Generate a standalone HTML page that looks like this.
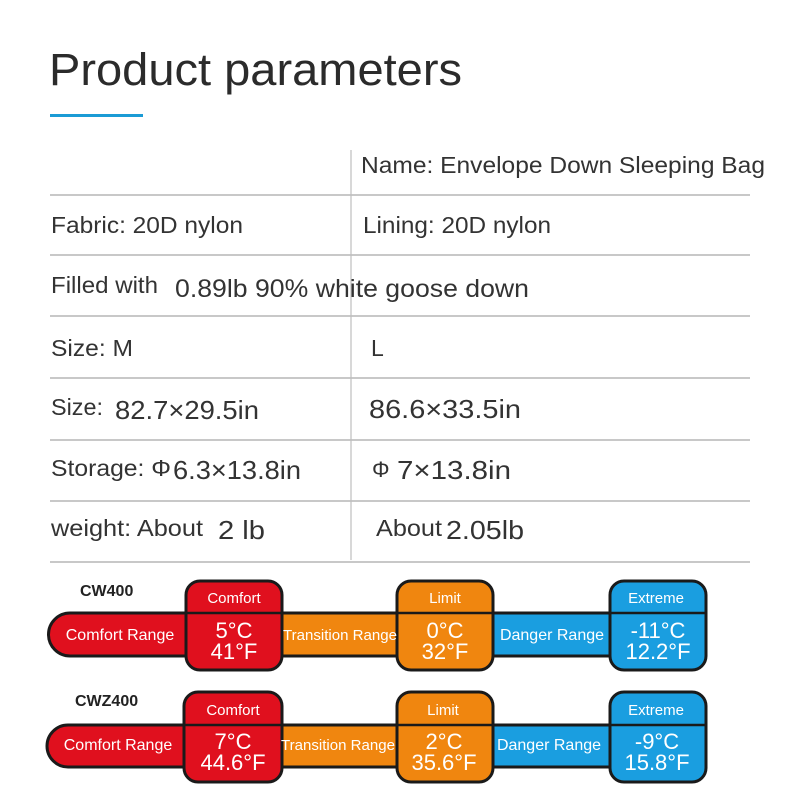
<!DOCTYPE html>
<html><head><meta charset="utf-8"><style>
html,body{margin:0;padding:0;background:#fff}
svg{display:block}
text{font-family:"Liberation Sans",Arial,sans-serif}
</style></head><body>
<svg width="800" height="800" viewBox="0 0 800 800" xmlns="http://www.w3.org/2000/svg">
<rect width="800" height="800" fill="#fff"/>
<text x="49" y="85" font-size="45" fill="#2b2b2b" textLength="413" lengthAdjust="spacingAndGlyphs">Product parameters</text>
<rect x="50" y="114" width="93" height="3" fill="#1b9bd5"/>
<g stroke="#c8c8c8" stroke-width="2">
<line x1="50" y1="195" x2="750" y2="195"/>
<line x1="50" y1="255" x2="750" y2="255"/>
<line x1="50" y1="316" x2="750" y2="316"/>
<line x1="50" y1="378" x2="750" y2="378"/>
<line x1="50" y1="440" x2="750" y2="440"/>
<line x1="50" y1="501" x2="750" y2="501"/>
<line x1="50" y1="562" x2="750" y2="562"/>
</g>
<line x1="351" y1="150" x2="351" y2="560" stroke="#bdbdbd" stroke-width="1.2"/>
<g fill="#333" font-size="23">
<text x="361" y="173" textLength="404" lengthAdjust="spacingAndGlyphs">Name: Envelope Down Sleeping Bag</text>
<text x="51" y="233" textLength="192" lengthAdjust="spacingAndGlyphs">Fabric: 20D nylon</text>
<text x="363" y="233" textLength="188" lengthAdjust="spacingAndGlyphs">Lining: 20D nylon</text>
<text x="51" y="293" textLength="107" lengthAdjust="spacingAndGlyphs">Filled with</text>
<text x="175" y="297" font-size="25" textLength="354" lengthAdjust="spacingAndGlyphs">0.89lb 90% white goose down</text>
<text x="51" y="356" textLength="82" lengthAdjust="spacingAndGlyphs">Size: M</text>
<text x="371" y="356">L</text>
<text x="51" y="415" textLength="52" lengthAdjust="spacingAndGlyphs">Size:</text>
<text x="115" y="419" font-size="26" textLength="144" lengthAdjust="spacingAndGlyphs">82.7×29.5in</text>
<text x="369" y="418" font-size="26" textLength="152" lengthAdjust="spacingAndGlyphs">86.6×33.5in</text>
<text x="51" y="476" textLength="120" lengthAdjust="spacingAndGlyphs">Storage: Φ</text>
<text x="173" y="479" font-size="26" textLength="128" lengthAdjust="spacingAndGlyphs">6.3×13.8in</text>
<text x="372" y="477" font-size="22">Φ</text>
<text x="397" y="479" font-size="26" textLength="114" lengthAdjust="spacingAndGlyphs">7×13.8in</text>
<text x="51" y="536" textLength="152" lengthAdjust="spacingAndGlyphs">weight: About</text>
<text x="218" y="539" font-size="26" textLength="47" lengthAdjust="spacingAndGlyphs">2 lb</text>
<text x="376" y="536" textLength="66" lengthAdjust="spacingAndGlyphs">About</text>
<text x="446" y="539" font-size="26" textLength="78" lengthAdjust="spacingAndGlyphs">2.05lb</text>
</g>

<g>
<text x="80" y="596" font-size="16" font-weight="bold" fill="#222">CW400</text>
<path d="M70 613 H186 V656 H70 A21.5 21.5 0 0 1 70 613 Z" fill="#e0101e" stroke="#1a1a1a" stroke-width="3"/>
<rect x="282" y="613" width="115" height="43" fill="#f0860f" stroke="#1a1a1a" stroke-width="3"/>
<rect x="493" y="613" width="117" height="43" fill="#1a9ee0" stroke="#1a1a1a" stroke-width="3"/>
<rect x="186" y="581" width="96" height="89" rx="14" fill="#e0101e" stroke="#1a1a1a" stroke-width="3"/>
<rect x="397" y="581" width="96" height="89" rx="14" fill="#f0860f" stroke="#1a1a1a" stroke-width="3"/>
<rect x="610" y="581" width="96" height="89" rx="14" fill="#1a9ee0" stroke="#1a1a1a" stroke-width="3"/>
<g stroke="#1a1a1a" stroke-width="2.5"><line x1="186" y1="613" x2="282" y2="613"/><line x1="397" y1="613" x2="493" y2="613"/><line x1="610" y1="613" x2="706" y2="613"/></g>
<g fill="#fff" text-anchor="middle">
<text x="120" y="640" font-size="16">Comfort Range</text>
<text x="340" y="640" font-size="15" textLength="114" lengthAdjust="spacingAndGlyphs">Transition Range</text>
<text x="552" y="640" font-size="16">Danger Range</text>
<text x="234" y="603" font-size="15">Comfort</text>
<text x="445" y="603" font-size="15">Limit</text>
<text x="656" y="603" font-size="15">Extreme</text>
<text x="234" y="638" font-size="22">5°C</text><text x="234" y="659" font-size="22">41°F</text>
<text x="445" y="638" font-size="22">0°C</text><text x="445" y="659" font-size="22">32°F</text>
<text x="658" y="638" font-size="22">-11°C</text><text x="658" y="659" font-size="22">12.2°F</text>
</g>
</g>
<g>
<text x="75" y="706" font-size="16" font-weight="bold" fill="#222">CWZ400</text>
<path d="M68 725 H184 V767 H68 A21 21 0 0 1 68 725 Z" fill="#e0101e" stroke="#1a1a1a" stroke-width="3"/>
<rect x="280" y="725" width="117" height="42" fill="#f0860f" stroke="#1a1a1a" stroke-width="3"/>
<rect x="493" y="725" width="117" height="42" fill="#1a9ee0" stroke="#1a1a1a" stroke-width="3"/>
<rect x="184" y="692" width="98" height="90" rx="14" fill="#e0101e" stroke="#1a1a1a" stroke-width="3"/>
<rect x="397" y="692" width="96" height="90" rx="14" fill="#f0860f" stroke="#1a1a1a" stroke-width="3"/>
<rect x="610" y="692" width="96" height="90" rx="14" fill="#1a9ee0" stroke="#1a1a1a" stroke-width="3"/>
<g stroke="#1a1a1a" stroke-width="2.5"><line x1="184" y1="725" x2="282" y2="725"/><line x1="397" y1="725" x2="493" y2="725"/><line x1="610" y1="725" x2="706" y2="725"/></g>
<g fill="#fff" text-anchor="middle">
<text x="118" y="750" font-size="16">Comfort Range</text>
<text x="338" y="750" font-size="15" textLength="114" lengthAdjust="spacingAndGlyphs">Transition Range</text>
<text x="549" y="750" font-size="16">Danger Range</text>
<text x="233" y="715" font-size="15">Comfort</text>
<text x="443" y="715" font-size="15">Limit</text>
<text x="656" y="715" font-size="15">Extreme</text>
<text x="233" y="749" font-size="22">7°C</text><text x="233" y="770" font-size="22">44.6°F</text>
<text x="444" y="749" font-size="22">2°C</text><text x="444" y="770" font-size="22">35.6°F</text>
<text x="657" y="749" font-size="22">-9°C</text><text x="657" y="770" font-size="22">15.8°F</text>
</g>
</g>
</svg>
</body></html>
